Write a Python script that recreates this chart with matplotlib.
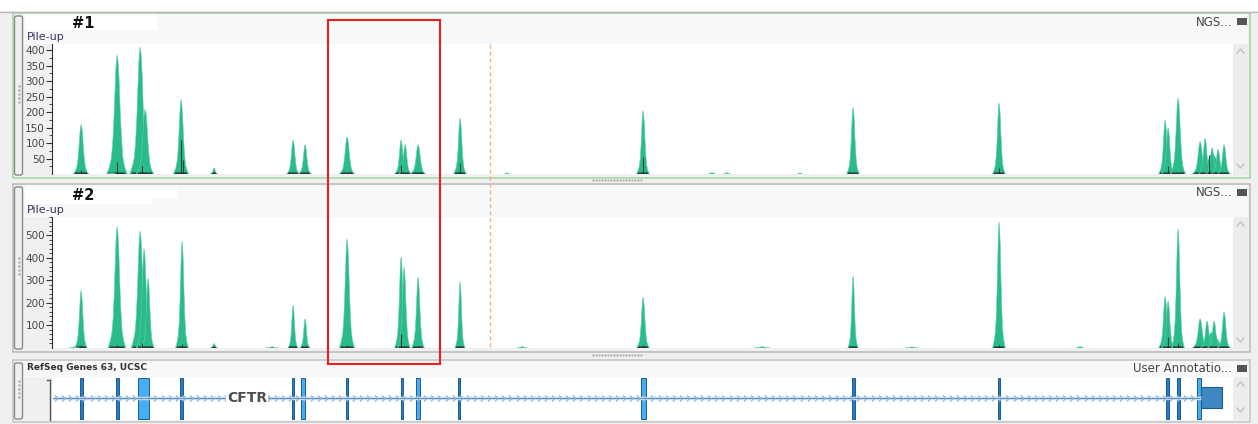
import matplotlib.pyplot as plt
from matplotlib.patches import Rectangle, FancyBboxPatch
from matplotlib.path import Path
import numpy as np

W, H = 1258, 424

# coverage peaks: position along the locus, peak height, half width
pos1 = [29, 65, 88, 93, 129, 162, 241, 253, 295, 349, 353, 366, 408, 591, 801, 947,
        1113, 1116, 1126, 1160, 1148, 1153, 1160, 1166, 1172,
        60, 455, 660, 675, 748]
cov1 = [160, 385, 410, 210, 240, 20, 110, 95, 120, 110, 95, 95, 180, 205, 215, 230,
        175, 150, 245, 65, 105, 115, 85, 80, 95,
        4, 4, 5, 4, 4]
hw1 = [6, 8, 8, 7, 6, 3, 5, 5, 6, 5, 5, 6, 5, 5, 5, 5, 5, 5, 6, 14, 6, 5, 5, 5, 5,
       3, 2, 3, 3, 2]

pos2 = [29, 65, 88, 92, 96, 130, 162, 241, 253, 295, 349, 352, 366, 408, 591, 801, 947,
        1113, 1116, 1126, 1160, 1148, 1155, 1162, 1172,
        22, 220, 470, 710, 860, 1028]
cov2 = [255, 540, 520, 440, 310, 475, 20, 190, 130, 485, 405, 360, 315, 295, 225, 320, 560,
        230, 210, 530, 70, 130, 120, 120, 160,
        5, 6, 6, 6, 5, 8]
hw2 = [5, 7, 7, 6, 5, 5, 3, 4, 4, 6, 5, 5, 5, 4, 5, 4, 5, 5, 5, 5, 14, 6, 5, 5, 5,
       4, 5, 4, 6, 5, 3]

# dark (low quality) read spikes
dark_pos1 = [29, 65, 90, 129, 131, 349, 408, 591, 947, 1116, 1157]
dark_cov1 = [12, 40, 25, 110, 45, 30, 35, 55, 20, 25, 60]
dark_pos2 = [29, 65, 90, 130, 295, 349, 591, 947, 1116, 1126]
dark_cov2 = [12, 15, 20, 18, 12, 60, 15, 12, 50, 20]

# normalised read pile shape (left to right)
shape_off = [-1.0, -0.85, -0.7, -0.55, -0.42, -0.3, -0.2, -0.1, 0.0, 0.1, 0.2, 0.3, 0.42, 0.55,
             0.7, 0.85, 1.0]
shape_val = [0.0, 0.03, 0.07, 0.13, 0.25, 0.45, 0.68, 0.9, 1.0, 0.95, 0.8, 0.55, 0.32, 0.15,
             0.07, 0.03, 0.0]

# CFTR exons
exon_start = [28, 64, 86, 128, 240, 249, 294, 349, 364, 406, 589, 800, 946, 1114, 1125, 1145]
exon_width = [2.5, 2.5, 11, 2.5, 2, 4, 2, 2, 4, 2, 4.5, 3, 2, 2.5, 2.5, 4]
utr_start, utr_width = 1149, 21

GREEN = '#29bb8a'
SPAN = 1181


def rect(x, y, w, h):
    return [x / W, 1 - (y + h) / H, w / W, h / H]


fig = plt.figure(figsize=(W / 100, H / 100), dpi=100)
fig.patch.set_facecolor('#f0f0f0')

bg = fig.add_axes([0, 0, 1, 1], zorder=0)
bg.set_xlim(0, W)
bg.set_ylim(H, 0)
bg.axis('off')
bg.add_patch(Rectangle((0, 0), W, 11, fc='white', ec='none'))
bg.plot([0, W], [11.5, 11.5], color='#b8b8b8', lw=1)


def frame(y0, y1, head, edge):
    bg.add_patch(Rectangle((13, y0), 1237, y1 - y0, fc='#f0f0f0', ec=edge, lw=1.2))
    bg.add_patch(Rectangle((24, y0 + 1), 1224, head - y0 - 1, fc='#f7f8fa', ec='none'))
    bg.add_patch(FancyBboxPatch((14.5, y0 + 3), 8, y1 - y0 - 6, boxstyle='round,pad=0,rounding_size=2',
                                fc='#f0f0f0', ec='#8a8a8a', lw=1))
    mid = (y0 + y1) / 2
    grip = np.arange(mid - 10, mid + 10, 4)
    bg.plot([18.5] * len(grip), grip, ls='none', marker='.', ms=1.5, color='#aaaaaa')
    # folder icon and scrollbar
    bg.add_patch(Rectangle((1237, y0 + 5), 10, 7, fc='#555555', ec='none'))
    bg.add_patch(Rectangle((1233, head), 15, y1 - head - 3, fc='#ececec', ec='none'))
    bg.plot([1237, 1240.5, 1244], [head + 9, head + 5, head + 9], color='#c0c0c0', lw=1)
    bg.plot([1237, 1240.5, 1244], [y1 - 14, y1 - 10, y1 - 14], color='#c0c0c0', lw=1)


frame(13, 178, 44, '#a9d8a9')
frame(184, 352, 217, '#bdbdbd')
frame(360, 422, 377, '#c8c8c8')

bg.add_patch(Rectangle((25, 14), 132, 16, fc='white', ec='none'))
bg.add_patch(Rectangle((25, 187), 152, 11, fc='white', ec='none'))
bg.add_patch(Rectangle((25, 197), 127, 7, fc='white', ec='none'))
bg.text(72, 23, '#1', fontsize=10.5, fontweight='bold', va='center', color='#111111')
bg.text(72, 196, '#2', fontsize=10.5, fontweight='bold', va='center', color='#111111')
bg.text(27, 37, 'Pile-up', fontsize=8, va='center', color='#3d2f5c')
bg.text(27, 210, 'Pile-up', fontsize=8, va='center', color='#3d2f5c')
bg.text(1232, 22, 'NGS...', fontsize=8.5, va='center', ha='right', color='#444444')
bg.text(1232, 193, 'NGS...', fontsize=8.5, va='center', ha='right', color='#444444')
bg.text(27, 367, 'RefSeq Genes 63, UCSC', fontsize=6.5, fontweight='bold', va='center', color='#333333')
bg.text(1232, 369, 'User Annotatio...', fontsize=8.5, va='center', ha='right', color='#444444')


def pileup(y0, y1, ymax, major, minor, pos, cov, hw, dpos, dcov):
    ax = fig.add_axes(rect(52, y0, SPAN, y1 - y0), zorder=2)
    ax.set_facecolor('white')
    ax.set_xlim(0, SPAN)
    ax.set_ylim(0, ymax)
    for s in ['top', 'right', 'bottom']:
        ax.spines[s].set_visible(False)
    ax.spines['left'].set_color('#333333')
    ax.set_xticks([])
    ax.set_yticks(major)
    ax.set_yticks(minor, minor=True)
    ax.tick_params(axis='y', which='major', length=4, labelsize=7.5, labelcolor='#444444',
                   color='#333333', pad=1)
    ax.tick_params(axis='y', which='minor', length=2, color='#333333')
    off = np.array(shape_off)
    val = np.array(shape_val)
    for c, h, w in zip(pos, cov, hw):
        ax.fill(c + off * w * 1.3, val * h, color=GREEN, lw=0.4, ec='#5fd0a8')
        if h > 15:
            ax.fill(c + off * w * 1.1, np.minimum(val * h, ymax * 0.012) * (val > 0),
                    color='#2a3a34', lw=0)
    ax.vlines(dpos, 0, dcov, color='#1d2a25', lw=0.8, alpha=0.8)
    return ax


pileup(44, 174, 420, range(50, 401, 50), range(25, 420, 25), pos1, cov1, hw1, dark_pos1, dark_cov1)
pileup(217, 348, 582, range(100, 501, 100), range(20, 582, 20), pos2, cov2, hw2, dark_pos2, dark_cov2)

# gene model track
gx = fig.add_axes(rect(52, 377, SPAN, 43), zorder=2)
gx.set_facecolor('white')
gx.set_xlim(0, SPAN)
gx.set_ylim(43, 0)
gx.set_xticks([])
gx.set_yticks([])
for s in gx.spines.values():
    s.set_visible(False)
chev = Path([(-0.5, 1), (0.5, 0), (-0.5, -1)], [Path.MOVETO, Path.LINETO, Path.LINETO])
gx.plot([1, utr_start], [21, 21], color='#c9dced', lw=2.5, solid_capstyle='butt')
gx.plot([1, utr_start], [21, 21], color='#5a8dbd', lw=0.7)
cx = np.arange(4, utr_start - 2, 7.1)
gx.plot(cx, [21] * len(cx), ls='none', marker=chev, ms=4.5, mfc='none', mec='#8fb4d6', mew=0.8)
for s, w in zip(exon_start, exon_width):
    fc = '#45aff2' if w > 3 else '#2a7bc8'
    gx.add_patch(Rectangle((s, 0.5), w, 41.5, fc=fc, ec='#1b5b95', lw=0.7))
gx.add_patch(Rectangle((utr_start, 10), utr_width, 21, fc='#3d88c2', ec='#1f5a8c', lw=0.8))
gx.text(195, 21.5, 'CFTR', fontsize=10, fontweight='bold', ha='center', va='center', color='#4d4d4d',
        bbox=dict(fc='white', ec='none', pad=0.5))

# overlays
fg = fig.add_axes([0, 0, 1, 1], zorder=5)
fg.set_xlim(0, W)
fg.set_ylim(H, 0)
fg.axis('off')
fg.patch.set_alpha(0)
fg.plot([50, 50], [380, 420], color='#555555', lw=1)
fg.plot([47, 50], [380, 380], color='#555555', lw=1)
fg.plot([490, 490], [44, 348], color='#f4b27c', lw=1, dashes=(3, 2))
fg.add_patch(Rectangle((327.5, 20), 112.5, 344, fc='none', ec='#e82020', lw=1.5))
for yy in (180, 355):
    dots = np.arange(593, 642, 3)
    fg.plot(dots, [yy] * len(dots), ls='none', marker='.', ms=1.2, color='#aaaaaa')

fig.savefig('out.png', dpi=100)
